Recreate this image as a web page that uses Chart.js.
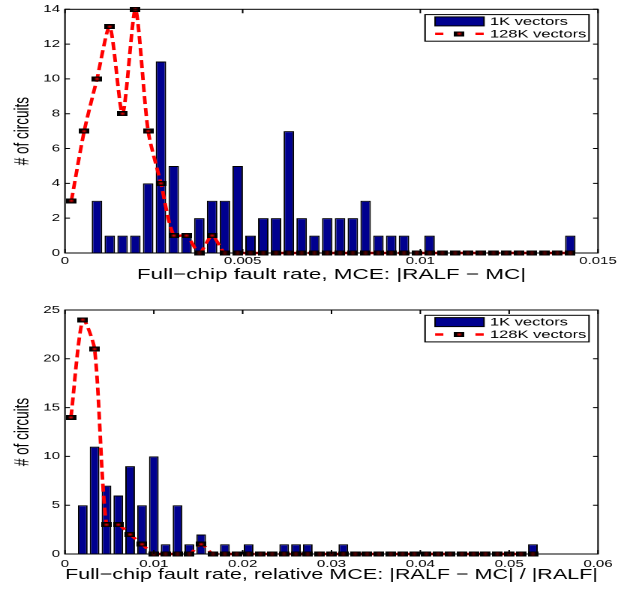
<!DOCTYPE html>
<html>
<head>
<meta charset="utf-8">
<script src="https://cdn.jsdelivr.net/npm/chart.js@4.4.0/dist/chart.umd.min.js"></script>
<style>
  html, body { margin: 0; padding: 0; background: #fff; }
  #wrap { position: relative; width: 633px; height: 589px; overflow: hidden; }
  canvas { position: absolute; left: 0; }
  #c1 { top: 0; }
  #c2 { top: 292px; }
</style>
</head>
<body>
<div id="wrap">
  <!-- the figure is stretched horizontally by 1.5, so draw narrow and stretch with css -->
  <canvas id="c1" width="422" height="292" style="width:633px;height:292px"></canvas>
  <canvas id="c2" width="422" height="297" style="width:633px;height:297px"></canvas>
</div>
<script>
// top panel: absolute MCE
const topBins = [0.00018, 0.00054, 0.00090, 0.00126, 0.00162, 0.00198, 0.00234, 0.00270, 0.00306, 0.00342,
                 0.00378, 0.00414, 0.00450, 0.00486, 0.00522, 0.00558, 0.00594, 0.00630, 0.00666, 0.00702,
                 0.00738, 0.00774, 0.00810, 0.00846, 0.00882, 0.00918, 0.00954, 0.00990, 0.01026, 0.01062,
                 0.01098, 0.01134, 0.01170, 0.01206, 0.01242, 0.01278, 0.01314, 0.01350, 0.01386, 0.01422];
const topK1 = [0, 0, 3, 1, 1, 1, 4, 11, 5, 1, 2, 3, 3, 5, 1, 2, 2, 7, 2, 1,
               2, 2, 2, 3, 1, 1, 1, 0, 1, 0, 0, 0, 0, 0, 0, 0, 0, 0, 0, 1];
const topK128 = [3, 7, 10, 13, 8, 14, 7, 4, 1, 1, 0, 1, 0, 0, 0, 0, 0, 0, 0, 0,
                 0, 0, 0, 0, 0, 0, 0, 0, 0, 0, 0, 0, 0, 0, 0, 0, 0, 0, 0, 0];
const topXTicks = [0, 0.005, 0.01, 0.015];
const topYTicks = [0, 2, 4, 6, 8, 10, 12, 14];

// bottom panel: relative MCE
const botBins = [0.00067, 0.00200, 0.00333, 0.00467, 0.00600, 0.00733, 0.00867, 0.01000, 0.01133, 0.01267,
                 0.01400, 0.01533, 0.01667, 0.01800, 0.01933, 0.02067, 0.02200, 0.02333, 0.02467, 0.02600,
                 0.02733, 0.02867, 0.03000, 0.03133, 0.03267, 0.03400, 0.03533, 0.03667, 0.03800, 0.03933,
                 0.04067, 0.04200, 0.04333, 0.04467, 0.04600, 0.04733, 0.04867, 0.05000, 0.05133, 0.05267];
const botK1 = [0, 5, 11, 7, 6, 9, 5, 10, 1, 5, 1, 2, 0, 1, 0, 1, 0, 0, 1, 1,
               1, 0, 0, 1, 0, 0, 0, 0, 0, 0, 0, 0, 0, 0, 0, 0, 0, 0, 0, 1];
const botK128 = [14, 24, 21, 3, 3, 2, 1, 0, 0, 0, 0, 1, 0, 0, 0, 0, 0, 0, 0, 0,
                 0, 0, 0, 0, 0, 0, 0, 0, 0, 0, 0, 0, 0, 0, 0, 0, 0, 0, 0, 0];
const botXTicks = [0, 0.01, 0.02, 0.03, 0.04, 0.05, 0.06];
const botYTicks = [0, 5, 10, 15, 20, 25];

const seriesLabels = ['1K vectors', '128K vectors'];
const yTitle = '# of circuits';
const topXTitle = 'Full\u2212chip fault rate, MCE: |RALF \u2212 MC|';
const botXTitle = 'Full\u2212chip fault rate, relative MCE: |RALF \u2212 MC| / |RALF|';

const FONT = "'Liberation Sans', Arial, Helvetica, sans-serif";
const barColor = '#00008f';
const lineColor = '#ff0000';

// square marker: black box with a red dot in the middle
const marker = document.createElement('canvas');
marker.width = 7;
marker.height = 5;
{
  const g = marker.getContext('2d');
  g.fillStyle = '#000';
  g.fillRect(0, 0, 7, 5);
  g.fillStyle = lineColor;
  g.fillRect(2.4, 1.5, 2.2, 2);
}

// axes box, inward ticks and the legend box (matlab style)
const frame = {
  id: 'frame',
  afterDraw(chart, args, opts) {
    const { ctx, chartArea: a, scales } = chart;
    ctx.save();
    ctx.strokeStyle = '#000';
    ctx.lineWidth = 1;
    ctx.beginPath();
    opts.xt.forEach(v => {
      const px = scales.x.getPixelForValue(v);
      ctx.moveTo(px, a.bottom); ctx.lineTo(px, a.bottom - 4);
      ctx.moveTo(px, a.top); ctx.lineTo(px, a.top + 4);
    });
    opts.yt.forEach(v => {
      const py = scales.y.getPixelForValue(v);
      ctx.moveTo(a.left, py); ctx.lineTo(a.left + 3.3, py);
      ctx.moveTo(a.right, py); ctx.lineTo(a.right - 3.3, py);
    });
    ctx.stroke();
    ctx.strokeRect(a.left, a.top, a.right - a.left, a.bottom - a.top);

    // legend
    const bw = 109.3, bh = 26.6;
    const bx = a.right - 6 - bw, by = a.top + 5.3;
    ctx.fillStyle = '#fff';
    ctx.fillRect(bx, by, bw, bh);
    ctx.strokeRect(bx, by, bw, bh);
    const r1 = by + 6.8, r2 = by + 19.2;
    ctx.fillStyle = barColor;
    ctx.fillRect(bx + 6.7, r1 - 4.5, 32.6, 9);
    ctx.strokeRect(bx + 6.7, r1 - 4.5, 32.6, 9);
    ctx.strokeStyle = lineColor;
    ctx.lineWidth = 2.4;
    ctx.beginPath();
    ctx.moveTo(bx + 6.7, r2); ctx.lineTo(bx + 12.2, r2);
    ctx.moveTo(bx + 33.6, r2); ctx.lineTo(bx + 39.1, r2);
    ctx.stroke();
    ctx.drawImage(marker, bx + 22.8 - 3.5, r2 - 2.5);
    ctx.fillStyle = '#000';
    ctx.font = '11px ' + FONT;
    ctx.textBaseline = 'middle';
    ctx.fillText(seriesLabels[0], bx + 43.3, r1 + 0.5);
    ctx.fillText(seriesLabels[1], bx + 43.3, r2 + 0.5);
    ctx.restore();
  }
};

function makeChart(id, bins, k1, k128, xt, yt, xTitle, o) {
  return new Chart(document.getElementById(id), {
    type: 'bar',
    data: {
      datasets: [
        {
          type: 'line',
          label: seriesLabels[1],
          data: bins.map((x, i) => ({ x: x, y: k128[i] })),
          borderColor: lineColor,
          borderWidth: 2.4,
          borderDash: [8, 4],
          tension: 0.25,
          fill: false,
          pointStyle: marker,
          pointRadius: 3,
          order: 0,
          clip: 4
        },
        {
          type: 'bar',
          label: seriesLabels[0],
          data: bins.map((x, i) => ({ x: x, y: k1[i] })),
          backgroundColor: barColor,
          borderColor: '#000',
          borderWidth: 1,
          barPercentage: 0.82,
          categoryPercentage: 1,
          order: 1
        }
      ]
    },
    options: {
      responsive: false,
      animation: false,
      devicePixelRatio: 2,
      layout: { padding: { left: 0, right: 23.33, top: o.top, bottom: 0 } },
      plugins: {
        legend: { display: false },
        tooltip: { enabled: false },
        frame: { xt: xt, yt: yt }
      },
      scales: {
        x: {
          type: 'linear',
          min: xt[0],
          max: xt[xt.length - 1],
          offset: false,
          grid: { display: false, drawTicks: false },
          border: { display: false },
          afterBuildTicks: s => { s.ticks = xt.map(v => ({ value: v })); },
          ticks: {
            callback: v => String(v),
            color: '#000',
            font: { family: FONT, size: 10 },
            padding: o.xPad,
            maxRotation: 0,
            autoSkip: false
          },
          title: {
            display: true,
            text: xTitle,
            color: '#000',
            font: { family: FONT, size: 15 },
            padding: { top: 0, bottom: o.tPad }
          },
          afterFit: s => { s.height = o.xH; }
        },
        y: {
          min: yt[0],
          max: yt[yt.length - 1],
          grid: { display: false, drawTicks: false },
          border: { display: false },
          afterBuildTicks: s => { s.ticks = yt.map(v => ({ value: v })); },
          ticks: { color: '#000', font: { family: FONT, size: 10 }, padding: 3.3 },
          title: {
            display: true,
            text: yTitle,
            color: '#000',
            font: { family: FONT, size: 13.5 },
            padding: { top: 7, bottom: 0 }
          },
          afterFit: s => { s.width = 43.33; }
        }
      }
    },
    plugins: [frame]
  });
}

makeChart('c1', topBins, topK1, topK128, topXTicks, topYTicks, topXTitle, { top: 7, xH: 39, xPad: 2, tPad: 8 });
makeChart('c2', botBins, botK1, botK128, botXTicks, botYTicks, botXTitle, { top: 18, xH: 35, xPad: 4, tPad: 5 });
</script>
</body>
</html>
